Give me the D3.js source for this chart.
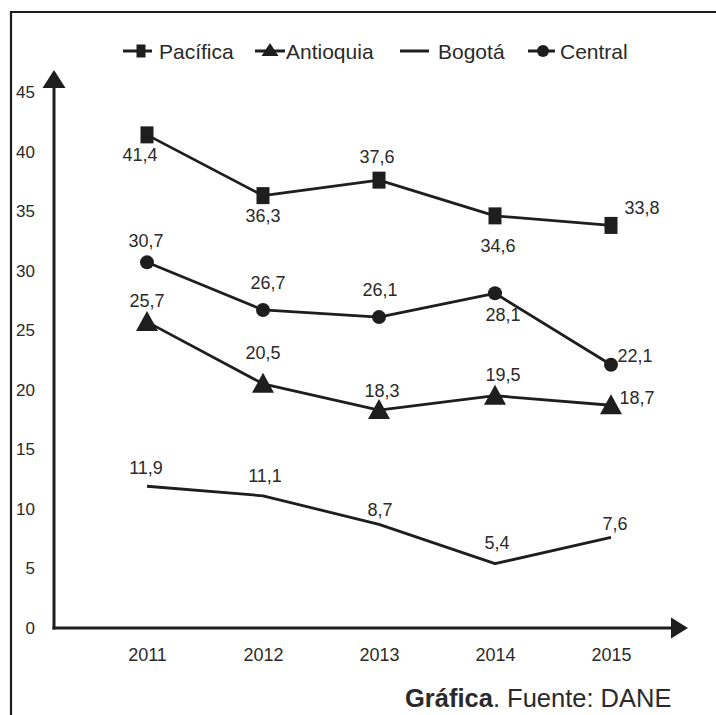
<!DOCTYPE html>
<html><head><meta charset="utf-8">
<script src="https://cdn.jsdelivr.net/npm/d3@7"></script>
<style>
body{margin:0;background:#fff;}
text{font-family:"Liberation Sans",Arial,Helvetica,sans-serif;fill:#2a2a2a;}
</style>
</head><body>
<svg id="chart" width="716" height="715"></svg>
<script>
// ---------- data ----------
const years = ["2011", "2012", "2013", "2014", "2015"];
const pacifica = [41.4, 36.3, 37.6, 34.6, 33.8];
const antioquia = [25.7, 20.5, 18.3, 19.5, 18.7];
const bogota = [11.9, 11.1, 8.7, 5.4, 7.6];
const central = [30.7, 26.7, 26.1, 28.1, 22.1];
const yTicks = [0, 5, 10, 15, 20, 25, 30, 35, 40, 45];
const seriesNames = ["Pacífica", "Antioquia", "Bogotá", "Central"];
const sourceBold = "Gráfica";
const sourceRest = ". Fuente: DANE";

// ---------- layout (label offsets from each point) ----------
const labelOffsets = {
  "Pacífica": [[-7, 20], [0, 20], [-2, -24], [3, 30], [31, -18]],
  "Antioquia": [[0, -21], [0, -31], [3, -20], [8, -21], [26, -8]],
  "Bogotá": [[-1, -19], [2, -20], [1, -15], [2, -21], [4, -14]],
  "Central": [[-1, -22], [5, -27], [1, -28], [8, 21], [24, -9]]
};
const symbolOf = {"Pacífica": "square", "Antioquia": "triangle", "Bogotá": "none", "Central": "circle"};
const valuesOf = {"Pacífica": pacifica, "Antioquia": antioquia, "Bogotá": bogota, "Central": central};

const ink = "#1e1e1e";
const svg = d3.select("#chart");
svg.append("rect").attr("width", 716).attr("height", 715).attr("fill", "#fff");

// frame
svg.append("path").attr("d", "M11,715 V12 H716").attr("fill", "none")
  .attr("stroke", ink).attr("stroke-width", 2.2);

const x = d3.scalePoint().domain(years).range([147, 611]);
const y = d3.scaleLinear().domain([0, 45]).range([628, 92]);
const axisX0 = 54;

// y tick labels
const yAxis = svg.append("g").attr("transform", `translate(${axisX0},0)`)
  .call(d3.axisLeft(y).tickValues(yTicks).tickSize(0).tickPadding(19).tickFormat(d3.format("d")));
yAxis.attr("font-size", null).attr("font-family", null);
yAxis.select(".domain").remove();
yAxis.selectAll("text").attr("font-size", 17).attr("fill", "#2a2a2a");

// x tick labels
const xAxis = svg.append("g").attr("transform", `translate(0,${y(0)})`)
  .call(d3.axisBottom(x).tickSize(0).tickPadding(20));
xAxis.attr("font-size", null).attr("font-family", null);
xAxis.select(".domain").remove();
xAxis.selectAll("text").attr("font-size", 18).attr("fill", "#2a2a2a");

// axes lines with arrows
svg.append("line").attr("x1", axisX0).attr("x2", axisX0).attr("y1", y(0) + 1.5).attr("y2", 86)
  .attr("stroke", ink).attr("stroke-width", 3);
svg.append("path").attr("d", `M${axisX0},70 L${axisX0 + 11.5},88 L${axisX0 - 11.5},88 Z`).attr("fill", ink);
svg.append("line").attr("x1", axisX0 - 1.5).attr("x2", 674).attr("y1", y(0)).attr("y2", y(0))
  .attr("stroke", ink).attr("stroke-width", 3);
svg.append("path").attr("d", `M688,${y(0)} L671,${y(0) - 10.5} L671,${y(0) + 10.5} Z`).attr("fill", ink);

// symbol drawing
function drawMarker(g, type, cx, cy) {
  if (type === "square") {
    g.append("rect").attr("x", cx - 6.5).attr("y", cy - 8.5)
      .attr("width", 13).attr("height", 17).attr("fill", ink);
  } else if (type === "triangle") {
    g.append("path").attr("d", `M${cx},${cy - 11} L${cx + 11},${cy + 9} L${cx - 11},${cy + 9} Z`)
      .attr("fill", ink);
  } else if (type === "circle") {
    g.append("circle").attr("cx", cx).attr("cy", cy).attr("r", 7).attr("fill", ink);
  }
}

const line = d3.line().x((d, i) => x(years[i])).y(d => y(d));

seriesNames.forEach(name => {
  const vals = valuesOf[name];
  const g = svg.append("g");
  g.append("path").datum(vals).attr("d", line).attr("fill", "none")
    .attr("stroke", ink).attr("stroke-width", 2.8).attr("stroke-linejoin", "round");
  vals.forEach((v, i) => drawMarker(g, symbolOf[name], x(years[i]), y(v)));
  g.selectAll("text.lbl").data(vals).join("text").attr("class", "lbl")
    .attr("x", (d, i) => x(years[i]) + labelOffsets[name][i][0])
    .attr("y", (d, i) => y(d) + labelOffsets[name][i][1])
    .attr("dy", "0.36em").attr("text-anchor", "middle").attr("font-size", 18)
    .text(d => d3.format(".1f")(d).replace(".", ","));
});

// legend
const legendItems = [
  {name: "Pacífica", x1: 123, x2: 152, mx: 141, tx: 159},
  {name: "Antioquia", x1: 255, x2: 285, mx: 270, tx: 286},
  {name: "Bogotá", x1: 400, x2: 429, mx: 414, tx: 438},
  {name: "Central", x1: 528, x2: 555, mx: 543, tx: 560}
];
const ly = 51;
const lg = svg.append("g");
legendItems.forEach(it => {
  lg.append("line").attr("x1", it.x1).attr("x2", it.x2).attr("y1", ly).attr("y2", ly)
    .attr("stroke", ink).attr("stroke-width", 3);
  const t = symbolOf[it.name];
  if (t === "square") lg.append("rect").attr("x", it.mx - 4.5).attr("y", ly - 6.5).attr("width", 9).attr("height", 13).attr("fill", ink);
  if (t === "triangle") lg.append("path").attr("d", `M${it.mx},${ly - 8} L${it.mx + 8.5},${ly + 5} L${it.mx - 8.5},${ly + 5} Z`).attr("fill", ink);
  if (t === "circle") lg.append("circle").attr("cx", it.mx).attr("cy", ly).attr("r", 6).attr("fill", ink);
  lg.append("text").attr("x", it.tx).attr("y", ly).attr("dy", "0.36em")
    .attr("font-size", 21).text(it.name);
});

// source note
const src = svg.append("text").attr("x", 405).attr("y", 707).attr("font-size", 25.5);
src.append("tspan").attr("font-weight", "bold").text(sourceBold);
src.append("tspan").text(sourceRest);
</script>
</body></html>
